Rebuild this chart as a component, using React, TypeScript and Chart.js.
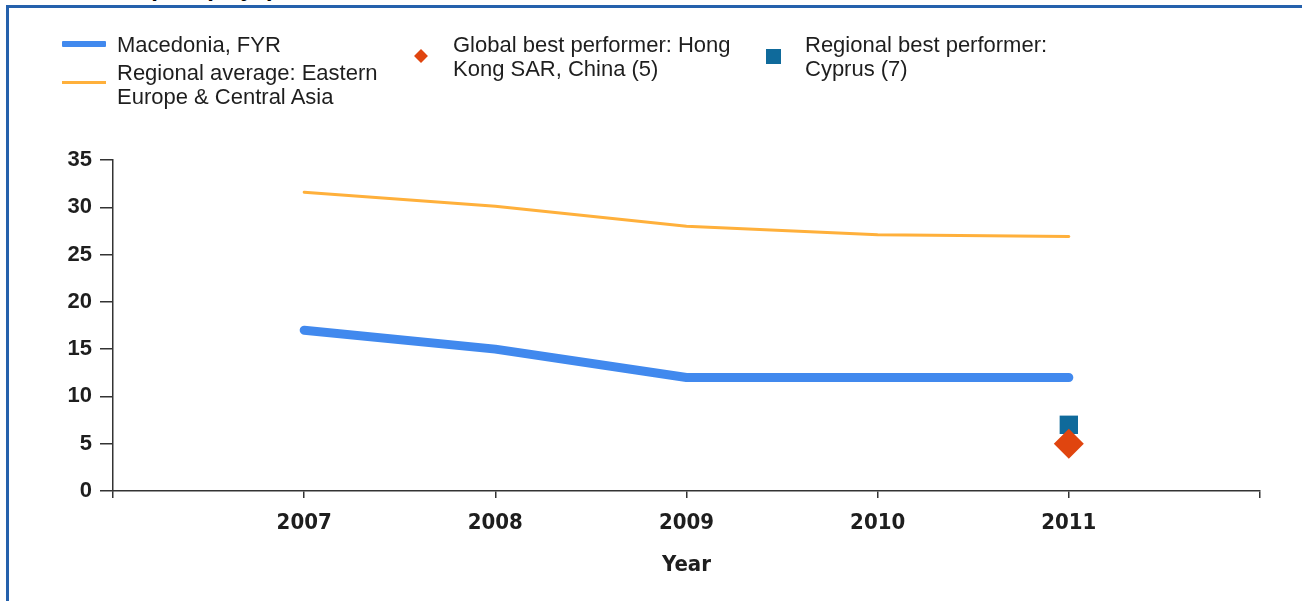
import React, { useEffect, useRef } from "react";
import { Chart, registerables } from "chart.js";

Chart.register(...registerables);

const titleText = "Time to export (days)";
const years = [2007, 2008, 2009, 2010, 2011];
const macedonia = [17, 15, 12, 12, 12];
const regionalAverage = [31.6, 30.1, 28.0, 27.1, 26.9];
const globalBestYear = [2011];
const globalBest = [5];
const regionalBestYear = [2011];
const regionalBest = [7];
const yTicks = [0, 5, 10, 15, 20, 25, 30, 35];
const xAxisTitle = "Year";

const seriesNames = {
  macedonia: "Macedonia, FYR",
  regional: ["Regional average: Eastern", "Europe & Central Asia"],
  global: ["Global best performer: Hong", "Kong SAR, China (5)"],
  regionalBest: ["Regional best performer:", "Cyprus (7)"],
};

const BLUE = "#4189EE";
const ORANGE = "#FFB03B";
const RED = "#E0450F";
const TEAL = "#0F6A9B";
const AXIS = "#333333";
const TEXT = "#1e1e1e";

export default function App() {
  const canvasRef = useRef<HTMLCanvasElement | null>(null);

  useEffect(() => {
    const canvas = canvasRef.current;
    if (!canvas) return;
    const chart = new Chart(canvas, {
      type: "line",
      data: {
        datasets: [
          {
            label: "Global best performer",
            data: globalBestYear.map((x, i) => ({ x, y: globalBest[i] })),
            showLine: false,
            pointStyle: "rectRot",
            pointRadius: 15,
            pointBackgroundColor: RED,
            pointBorderColor: RED,
            pointBorderWidth: 0,
            order: 0,
          },
          {
            label: "Regional best performer",
            data: regionalBestYear.map((x, i) => ({ x, y: regionalBest[i] })),
            showLine: false,
            pointStyle: "rect",
            pointRadius: 13,
            pointBackgroundColor: TEAL,
            pointBorderColor: TEAL,
            pointBorderWidth: 0,
            order: 1,
          },
          {
            label: seriesNames.macedonia,
            data: years.map((x, i) => ({ x, y: macedonia[i] })),
            borderColor: BLUE,
            backgroundColor: BLUE,
            borderWidth: 9,
            borderCapStyle: "round",
            borderJoinStyle: "round",
            pointRadius: 0,
            tension: 0,
            order: 2,
          },
          {
            label: seriesNames.regional.join(" "),
            data: years.map((x, i) => ({ x, y: regionalAverage[i] })),
            borderColor: ORANGE,
            backgroundColor: ORANGE,
            borderWidth: 3,
            borderCapStyle: "round",
            pointRadius: 0,
            tension: 0,
            order: 3,
          },
        ],
      },
      options: {
        animation: false,
        responsive: false,
        devicePixelRatio: 1,
        layout: { padding: { left: 0, right: 42, top: 160, bottom: 0 } },
        plugins: {
          legend: { display: false },
          tooltip: { enabled: false },
          title: { display: false },
        },
        scales: {
          x: {
            type: "linear",
            min: 2006,
            max: 2012,
            afterFit: (s: any) => {
              s.height = 110;
            },
            ticks: {
              stepSize: 1,
              autoSkip: false,
              maxRotation: 0,
              padding: 12,
              color: TEXT,
              font: { family: "'Liberation Sans Narrow', 'DejaVu Sans Condensed', 'Liberation Sans', sans-serif", weight: "bold", size: 22 },
              callback: (v: any) => (years.includes(Number(v)) ? String(v) : ""),
            },
            grid: {
              drawOnChartArea: false,
              drawTicks: true,
              tickLength: 7,
              color: AXIS,
              lineWidth: 1.5,
            },
            border: { display: true, color: AXIS, width: 1.5 },
            title: {
              display: true,
              text: xAxisTitle,
              color: TEXT,
              font: { family: "'Liberation Sans Narrow', 'DejaVu Sans Condensed', 'Liberation Sans', sans-serif", weight: "bold", size: 22 },
              padding: { top: 4, bottom: 23 },
            },
          },
          y: {
            min: 0,
            max: 35,
            afterFit: (s: any) => {
              s.width = 113;
            },
            afterBuildTicks: (s: any) => {
              s.ticks = yTicks.map((v) => ({ value: v }));
            },
            ticks: {
              padding: 8,
              color: TEXT,
              font: { family: "'Liberation Sans', Arial, sans-serif", weight: "bold", size: 22 },
            },
            grid: {
              drawOnChartArea: false,
              drawTicks: true,
              tickLength: 13,
              color: AXIS,
              lineWidth: 1.5,
            },
            border: { display: true, color: AXIS, width: 1.5 },
          },
        },
      },
    });
    return () => chart.destroy();
  }, []);

  const textStyle: React.CSSProperties = {
    position: "absolute",
    fontFamily: "'Liberation Sans', Arial, sans-serif",
    fontSize: 22,
    lineHeight: "24px",
    color: TEXT,
    whiteSpace: "nowrap",
  };

  return (
    <div
      style={{
        position: "fixed",
        left: 0,
        top: 0,
        width: 1302,
        height: 601,
        overflow: "hidden",
        background: "#ffffff",
      }}
    >
      <div
        style={{
          position: "absolute",
          left: 33,
          top: -24,
          fontFamily: "'Liberation Sans', Arial, sans-serif",
          fontWeight: "bold",
          fontSize: 24,
          lineHeight: "24px",
          color: "#000",
          whiteSpace: "nowrap",
        }}
      >
        {titleText}
      </div>
      <div
        style={{
          position: "absolute",
          left: 6,
          top: 5,
          width: 1400,
          height: 700,
          borderLeft: "3px solid #2561AC",
          borderTop: "3px solid #2561AC",
          boxSizing: "border-box",
        }}
      />
      <canvas
        ref={canvasRef}
        width={1302}
        height={601}
        style={{ position: "absolute", left: 0, top: 0, width: 1302, height: 601 }}
      />
      {/* legend */}
      <div style={{ position: "absolute", left: 62, top: 41, width: 44, height: 6, background: BLUE, borderRadius: 1 }} />
      <div style={{ ...textStyle, left: 117, top: 33 }}>{seriesNames.macedonia}</div>
      <div style={{ position: "absolute", left: 62, top: 81, width: 44, height: 3, background: ORANGE }} />
      <div style={{ ...textStyle, left: 117, top: 61 }}>
        {seriesNames.regional[0]}
        <br />
        {seriesNames.regional[1]}
      </div>
      <div
        style={{
          position: "absolute",
          left: 415,
          top: 50,
          width: 12,
          height: 12,
          background: RED,
          transform: "rotate(45deg) scale(0.82)",
        }}
      />
      <div style={{ ...textStyle, left: 453, top: 33 }}>
        {seriesNames.global[0]}
        <br />
        {seriesNames.global[1]}
      </div>
      <div style={{ position: "absolute", left: 766, top: 49, width: 15, height: 15, background: TEAL }} />
      <div style={{ ...textStyle, left: 805, top: 33 }}>
        {seriesNames.regionalBest[0]}
        <br />
        {seriesNames.regionalBest[1]}
      </div>
    </div>
  );
}
